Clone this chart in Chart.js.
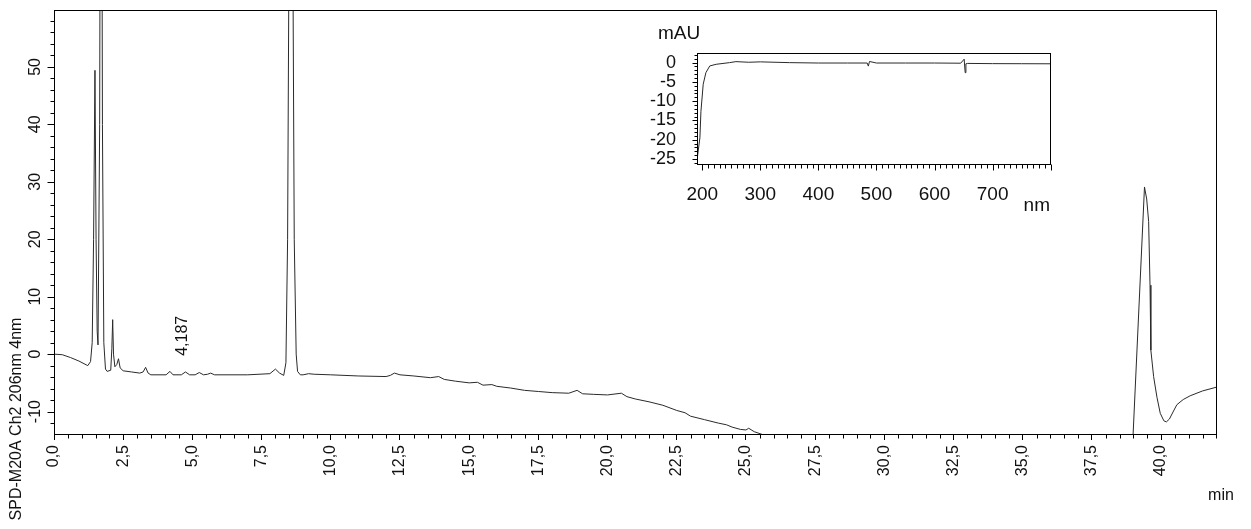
<!DOCTYPE html>
<html>
<head>
<meta charset="utf-8">
<script src="https://cdn.jsdelivr.net/npm/chart.js@4"></script>
<style>
  body { margin: 0; background: #fff; }
  #wrap { position: relative; width: 1251px; height: 529px; }
  #inset { position: absolute; left: 620px; top: 20px; }
</style>
</head>
<body>
<div id="wrap">
  <canvas id="main" width="1251" height="529"></canvas>
  <canvas id="inset" width="440" height="200"></canvas>
</div>
<script>
// chromatogram: retention time (min) vs signal (mAU)
const times = [
  0.0, 0.3, 0.6, 0.9, 1.22, 1.32, 1.38, 1.43, 1.48, 1.52, 1.56, 1.59, 1.65, 1.70, 1.75, 1.80, 1.86, 1.92,
  2.05, 2.09, 2.12, 2.15, 2.20, 2.27, 2.33, 2.39, 2.5, 2.8, 3.1, 3.22, 3.31, 3.40, 3.50,
  4.05, 4.19, 4.30, 4.6, 4.75, 4.9, 5.1, 5.25, 5.4, 5.55, 5.66, 5.8, 7.0, 7.8, 8.0, 8.15, 8.30,
  8.38, 8.44, 8.50, 8.56, 8.62, 8.68, 8.75, 8.80, 8.90, 9.0, 9.2, 9.4, 10.0, 11.0, 12.0, 12.15,
  12.3, 12.5, 13.0, 13.6, 13.9, 14.1, 14.5, 15.0, 15.3, 15.5, 15.82, 16.0, 16.5, 17.0, 17.5, 18.0,
  18.6, 18.9, 19.1, 19.5, 20.0, 20.5, 20.7, 21.0, 21.5, 22.0, 22.5, 22.8, 23.0, 23.5, 24.0, 24.3,
  24.5, 24.8, 25.0, 25.1, 25.3, 25.6, 26.0, 32.0, 38.95, 39.40, 39.48, 39.55, 39.60, 39.63, 39.73,
  39.85, 39.97, 40.1, 40.19, 40.3, 40.45, 40.57, 40.8, 41.05, 41.5, 42.0
];
const signal = [
  0.0, -0.1, -0.6, -1.2, -2.0, -1.3, 2, 20, 49.4, 20, 4, 1.6, 40, 150, 40, 2, -2.6, -3.0,
  -2.8, 1.0, 6.0, 0, -2.2, -1.8, -0.8, -2.4, -2.9, -3.1, -3.3, -3.1, -2.3, -3.3, -3.6,
  -3.6, -3.0, -3.6, -3.6, -3.1, -3.6, -3.6, -3.2, -3.6, -3.5, -3.3, -3.6, -3.6, -3.4, -2.6, -3.3, -3.7,
  -1.5, 20, 80, 200, 80, 20, 0, -3.0, -3.6, -3.6, -3.4, -3.5, -3.6, -3.8, -3.9, -3.7,
  -3.3, -3.6, -3.8, -4.1, -3.9, -4.4, -4.7, -5.0, -4.9, -5.4, -5.3, -5.6, -5.9, -6.3, -6.5, -6.7,
  -6.8, -6.3, -6.9, -7.0, -7.1, -6.8, -7.4, -7.8, -8.3, -8.9, -9.8, -10.2, -10.8, -11.4, -12.0, -12.3,
  -12.7, -13.1, -13.2, -12.9, -13.5, -14.0, -14.8, null, -18, 29.1, 27, 23.1, 12, 0.7, -3.9,
  -7.5, -10.3, -11.6, -11.8, -11.3, -9.9, -8.8, -7.9, -7.25, -6.4, -5.75
];
const peakTimes = [4.187];
const peakLabels = ['4,187'];
const yLabels = [-10, 0, 10, 20, 30, 40, 50];

// inset spectrum: wavelength (nm) vs absorbance (mAU)
const wavelengths = [191.5, 196, 197.8, 201.7, 206.3, 213, 224, 247, 258, 280, 300, 350, 400, 450, 484, 486, 488, 500, 550, 600, 645, 651, 652.7, 654, 657, 700, 750, 800];
const absorbance = [-24.7, -19.5, -12.6, -5.6, -2.6, -0.86, -0.43, 0, 0.26, 0.1, 0.2, 0, -0.1, -0.1, -0.1, -0.9, 0.3, -0.1, -0.1, -0.1, -0.15, 0.9, -2.6, -0.3, -0.2, -0.26, -0.28, -0.3];
const nmTicks = [200, 300, 400, 500, 600, 700];
const mauTicks = [-25, -20, -15, -10, -5, 0];

const FONT = '"Liberation Sans", Arial, sans-serif';
const INK = '#111';

const mainFrame = {
  id: 'mainFrame',
  afterDraw(chart) {
    const { ctx, chartArea: a, scales: { x, y } } = chart;
    ctx.save();
    ctx.strokeStyle = '#000';
    ctx.lineWidth = 1;
    ctx.strokeRect(Math.round(a.left) + 0.5, Math.round(a.top) + 0.5,
      Math.round(a.right - a.left) - 1, Math.round(a.bottom - a.top));
    ctx.beginPath();
    const bottom = Math.round(a.bottom) + 0.5;
    for (let v = 0; v <= x.max; v += 0.5) {
      if (v % 2.5 === 0) continue;
      const px = Math.round(x.getPixelForValue(v)) + 0.5;
      ctx.moveTo(px, bottom);
      ctx.lineTo(px, bottom + 4);
    }
    const left = Math.round(a.left) + 0.5;
    for (let v = -12; v <= y.max; v += 2) {
      const py = Math.round(y.getPixelForValue(v)) + 0.5;
      ctx.moveTo(left, py);
      ctx.lineTo(left - (v % 10 === 0 ? 7 : 4), py);
    }
    ctx.stroke();

    ctx.fillStyle = INK;
    ctx.font = '16px ' + FONT;
    ctx.textAlign = 'center';
    ctx.textBaseline = 'middle';
    const rotText = (t, cx, cy) => {
      ctx.save();
      ctx.translate(cx, cy);
      ctx.rotate(-Math.PI / 2);
      ctx.fillText(t, 0, 0);
      ctx.restore();
    };
    yLabels.forEach(v => rotText(String(v), 36, y.getPixelForValue(v)));
    rotText('SPD-M20A Ch2 206nm 4nm', 17, 419);
    peakTimes.forEach((t, i) => rotText(peakLabels[i], x.getPixelForValue(t) + 13, y.getPixelForValue(3.2)));
    ctx.fillText('min', 1221, 496);
    ctx.restore();
  }
};

new Chart(document.getElementById('main'), {
  type: 'line',
  data: {
    datasets: [{
      data: times.map((t, i) => ({ x: t, y: signal[i] })),
      borderColor: '#2a2a2a',
      borderWidth: 1,
      pointRadius: 0,
      tension: 0,
      spanGaps: false
    }]
  },
  options: {
    responsive: false,
    animation: false,
    devicePixelRatio: 1,
    layout: { padding: { left: 0, top: 10, right: 34, bottom: 0 } },
    plugins: { legend: { display: false }, tooltip: { enabled: false } },
    scales: {
      x: {
        type: 'linear',
        min: 0,
        max: 42.02,
        border: { display: false },
        grid: { drawOnChartArea: false, drawTicks: true, tickLength: 6, color: '#000' },
        ticks: {
          stepSize: 2.5,
          includeBounds: false,
          autoSkip: false,
          minRotation: 90,
          maxRotation: 90,
          padding: 5,
          color: INK,
          font: { family: FONT, size: 16 },
          callback: v => v.toFixed(1).replace('.', ',')
        },
        afterFit: s => { s.height = 95; }
      },
      y: {
        min: -13.9,
        max: 59.9,
        border: { display: false },
        grid: { display: false },
        ticks: { display: false },
        afterFit: s => { s.width = 54; }
      }
    }
  },
  plugins: [mainFrame]
});

const insetFrame = {
  id: 'insetFrame',
  afterDraw(chart) {
    const { ctx, chartArea: a, scales: { x, y } } = chart;
    ctx.save();
    ctx.strokeStyle = '#000';
    ctx.lineWidth = 1;
    ctx.strokeRect(Math.round(a.left) + 0.5, Math.round(a.top) + 0.5,
      Math.round(a.right - a.left) - 1, Math.round(a.bottom - a.top));
    ctx.beginPath();
    const bottom = Math.round(a.bottom) + 0.5;
    for (let v = 200; v <= x.max; v += 10) {
      const px = Math.round(x.getPixelForValue(v)) + 0.5;
      ctx.moveTo(px, bottom);
      ctx.lineTo(px, bottom + (v % 100 === 0 ? 6 : 4));
    }
    const left = Math.round(a.left) + 0.5;
    for (let v = -26; v <= y.max; v += 1) {
      const py = Math.round(y.getPixelForValue(v)) + 0.5;
      ctx.moveTo(left, py);
      ctx.lineTo(left - (v % 5 === 0 ? 5 : 3), py);
    }
    ctx.stroke();
    ctx.fillStyle = INK;
    ctx.font = '19px ' + FONT;
    ctx.textBaseline = 'middle';
    ctx.textAlign = 'left';
    ctx.fillText('mAU', 38, 14);
    ctx.textAlign = 'right';
    ctx.fillText('nm', 430, 186);
    ctx.restore();
  }
};

new Chart(document.getElementById('inset'), {
  type: 'line',
  data: {
    datasets: [{
      data: wavelengths.map((w, i) => ({ x: w, y: absorbance[i] })),
      borderColor: '#2a2a2a',
      borderWidth: 1,
      pointRadius: 0,
      tension: 0
    }]
  },
  options: {
    responsive: false,
    animation: false,
    devicePixelRatio: 1,
    layout: { padding: { left: 0, top: 33, right: 9, bottom: 0 } },
    plugins: { legend: { display: false }, tooltip: { enabled: false } },
    scales: {
      x: {
        type: 'linear',
        min: 191,
        max: 800.5,
        border: { display: false },
        grid: { display: false },
        afterBuildTicks: s => { s.ticks = nmTicks.map(v => ({ value: v })); },
        ticks: {
          autoSkip: false,
          maxRotation: 0,
          padding: 11,
          color: INK,
          font: { family: FONT, size: 19 }
        },
        afterFit: s => { s.height = 56; }
      },
      y: {
        min: -26.3,
        max: 2.5,
        border: { display: false },
        grid: { display: false },
        afterBuildTicks: s => { s.ticks = mauTicks.map(v => ({ value: v })); },
        ticks: {
          autoSkip: false,
          padding: 13,
          color: INK,
          font: { family: FONT, size: 18 }
        },
        afterFit: s => { s.width = 77; }
      }
    }
  },
  plugins: [insetFrame]
});
</script>
</body>
</html>
